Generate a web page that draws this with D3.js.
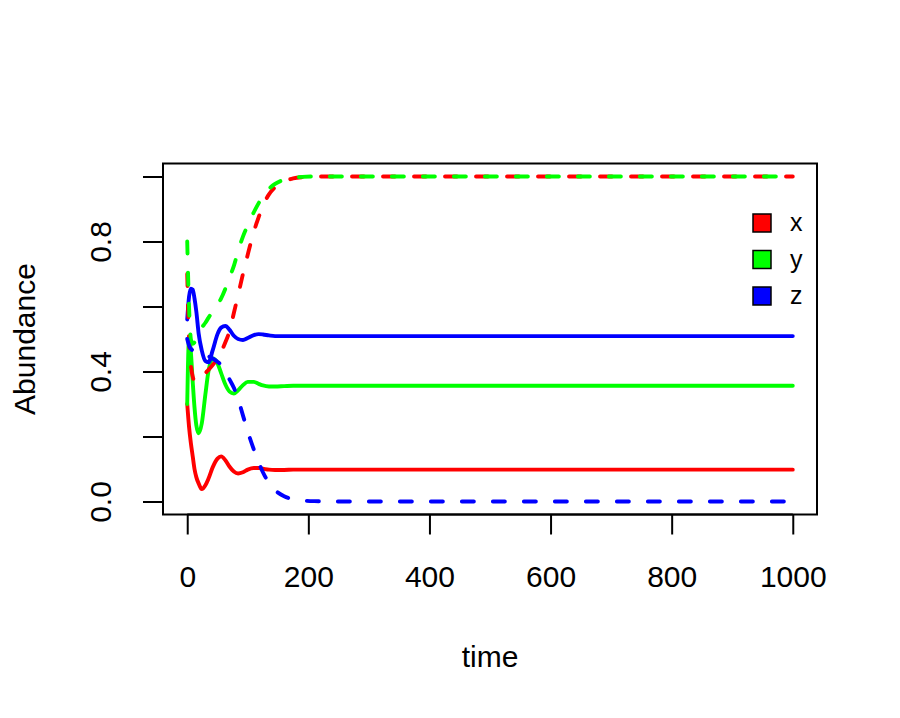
<!doctype html>
<html>
<head>
<meta charset="utf-8">
<title>Abundance over time</title>
<style>
  body { margin: 0; background: #ffffff; }
  text { font-family: "Liberation Sans", Arial, Helvetica, sans-serif; fill: #000; }
</style>
</head>
<body>
<div id="here"></div>
<script src="https://d3js.org/d3.v7.min.js"></script>
<script>
// sampled time points
var time = [0, 3, 6, 9, 12, 15, 19, 24, 30, 35, 42, 50, 56, 63, 70, 77, 84, 92, 100, 110,
            118, 125, 135, 145, 160, 175, 190, 210, 250, 300, 400, 500, 600, 700, 800, 900, 1000];

// first run (solid lines)
var xSolid = [0.30, 0.23, 0.18, 0.14, 0.10, 0.075, 0.055, 0.038, 0.05, 0.07, 0.105, 0.132, 0.139, 0.127, 0.107, 0.092, 0.086, 0.09, 0.098, 0.103,
              0.103, 0.101, 0.098, 0.097, 0.097, 0.098, 0.098, 0.098, 0.098, 0.098, 0.098, 0.098, 0.098, 0.098, 0.098, 0.098, 0.098];
var ySolid = [0.30, 0.50, 0.46, 0.37, 0.29, 0.235, 0.21, 0.24, 0.33, 0.40, 0.44, 0.425, 0.395, 0.36, 0.338, 0.332, 0.342, 0.358, 0.368, 0.368,
              0.362, 0.357, 0.354, 0.354, 0.355, 0.356, 0.356, 0.356, 0.356, 0.356, 0.356, 0.356, 0.356, 0.356, 0.356, 0.356, 0.356];
var zSolid = [0.56, 0.63, 0.655, 0.652, 0.625, 0.585, 0.515, 0.465, 0.432, 0.428, 0.465, 0.515, 0.535, 0.54, 0.528, 0.51, 0.50, 0.497, 0.503, 0.512,
              0.515, 0.514, 0.511, 0.509, 0.509, 0.509, 0.509, 0.509, 0.509, 0.509, 0.509, 0.509, 0.509, 0.509, 0.509, 0.509, 0.509];

// second run (dashed lines)
var xDashed = [0.70, 0.50, 0.42, 0.385, 0.37, 0.368, 0.372, 0.382, 0.395, 0.405, 0.42, 0.44, 0.46, 0.49, 0.525, 0.58, 0.635, 0.70, 0.76, 0.83,
               0.875, 0.91, 0.945, 0.967, 0.985, 0.994, 0.998, 1.0, 1.0, 1.0, 1.0, 1.0, 1.0, 1.0, 1.0, 1.0, 1.0];
var yDashed = [0.80, 0.60, 0.50, 0.485, 0.49, 0.505, 0.52, 0.535, 0.55, 0.565, 0.585, 0.605, 0.625, 0.655, 0.69, 0.725, 0.77, 0.815, 0.85, 0.89,
               0.918, 0.94, 0.962, 0.977, 0.99, 0.996, 0.999, 1.0, 1.0, 1.0, 1.0, 1.0, 1.0, 1.0, 1.0, 1.0, 1.0];
var zDashed = [0.50, 0.48, 0.47, 0.465, 0.462, 0.458, 0.455, 0.452, 0.45, 0.447, 0.44, 0.43, 0.42, 0.40, 0.375, 0.35, 0.315, 0.265, 0.215, 0.16,
               0.12, 0.09, 0.057, 0.035, 0.016, 0.007, 0.003, 0.001, 0, 0, 0, 0, 0, 0, 0, 0, 0];

var xTicks = [0, 200, 400, 600, 800, 1000];
var yTicks = [0, 0.2, 0.4, 0.6, 0.8, 1.0];
var yTickLabels = ["0.0", "", "0.4", "", "0.8", ""];
var legendNames = ["x", "y", "z"];
var legendColors = ["#ff0000", "#00ff00", "#0000ff"];

var w = 900, h = 718;
var pLeft = 163, pRight = 817, pTop = 163.5, pBottom = 514.5;

var svg = d3.select("#here").append("svg")
  .attr("width", w)
  .attr("height", h)
  .style("background", "#ffffff");

var x = d3.scaleLinear().domain([-40, 1040]).range([pLeft, pRight]);
var y = d3.scaleLinear().domain([-0.04, 1.04]).range([pBottom, pTop]);

// lines, solid run first then dashed run
var series = [
  {v: xSolid, c: legendColors[0], dash: null},
  {v: ySolid, c: legendColors[1], dash: null},
  {v: zSolid, c: legendColors[2], dash: null},
  {v: xDashed, c: legendColors[0], dash: "12,19"},
  {v: yDashed, c: legendColors[1], dash: "12,19"},
  {v: zDashed, c: legendColors[2], dash: "12,19"}
];

var line = d3.line()
  .x(function(d, i) { return x(time[i]); })
  .y(function(d) { return y(d); })
  .curve(d3.curveMonotoneX);

svg.selectAll(".serie")
  .data(series)
  .enter().append("path")
  .attr("class", "serie")
  .attr("d", function(d) { return line(d.v); })
  .attr("fill", "none")
  .attr("stroke", function(d) { return d.c; })
  .attr("stroke-width", 3.9)
  .attr("stroke-linecap", "round")
  .attr("stroke-linejoin", "round")
  .attr("stroke-dasharray", function(d) { return d.dash; });

// box
svg.append("rect")
  .attr("x", pLeft).attr("y", pTop)
  .attr("width", pRight - pLeft).attr("height", pBottom - pTop)
  .attr("fill", "none").attr("stroke", "#000").attr("stroke-width", 2);

// x axis
var xAxis = svg.append("g")
  .attr("transform", "translate(0," + pBottom + ")")
  .call(d3.axisBottom(x).tickValues(xTicks).tickSize(20).tickPadding(31).tickSizeOuter(0)
    .tickFormat(d3.format("d")));
xAxis.select(".domain")
  .attr("d", "M" + x(0) + ",0H" + x(1000))
  .attr("stroke-width", 2);
xAxis.selectAll(".tick line").attr("stroke-width", 2);
xAxis.selectAll(".tick text")
  .style("font-size", "30px")
  .style("font-family", "'Liberation Sans', Arial, sans-serif")
  .attr("fill", "#000");

// y axis
var yAxis = svg.append("g")
  .attr("transform", "translate(" + pLeft + ",0)")
  .call(d3.axisLeft(y).tickValues(yTicks).tickSize(20).tickSizeOuter(0)
    .tickFormat(function(d, i) { return yTickLabels[i]; }));
yAxis.select(".domain")
  .attr("d", "M0," + y(0) + "V" + y(1))
  .attr("stroke-width", 2);
yAxis.selectAll(".tick line").attr("stroke-width", 2);
yAxis.selectAll(".tick text")
  .attr("x", 0).attr("dy", null)
  .attr("transform", "translate(-52,0) rotate(-90)")
  .attr("text-anchor", "middle")
  .style("font-size", "30px")
  .style("font-family", "'Liberation Sans', Arial, sans-serif")
  .attr("fill", "#000");

// axis titles
svg.append("text")
  .attr("x", (pLeft + pRight) / 2).attr("y", 667)
  .attr("text-anchor", "middle")
  .style("font-size", "30px")
  .text("time");

svg.append("text")
  .attr("transform", "translate(35," + (pTop + pBottom) / 2 + ") rotate(-90)")
  .attr("text-anchor", "middle")
  .style("font-size", "30px")
  .text("Abundance");

// legend
var leg = svg.selectAll(".leg")
  .data(legendNames)
  .enter().append("g")
  .attr("class", "leg")
  .attr("transform", function(d, i) { return "translate(753," + (214 + i * 36.5) + ")"; });

leg.append("rect")
  .attr("width", 18).attr("height", 18)
  .attr("fill", function(d, i) { return legendColors[i]; })
  .attr("stroke", "#000").attr("stroke-width", 1.5);

leg.append("text")
  .attr("x", 37).attr("y", 17)
  .style("font-size", "25px")
  .text(function(d) { return d; });
</script>
</body>
</html>
